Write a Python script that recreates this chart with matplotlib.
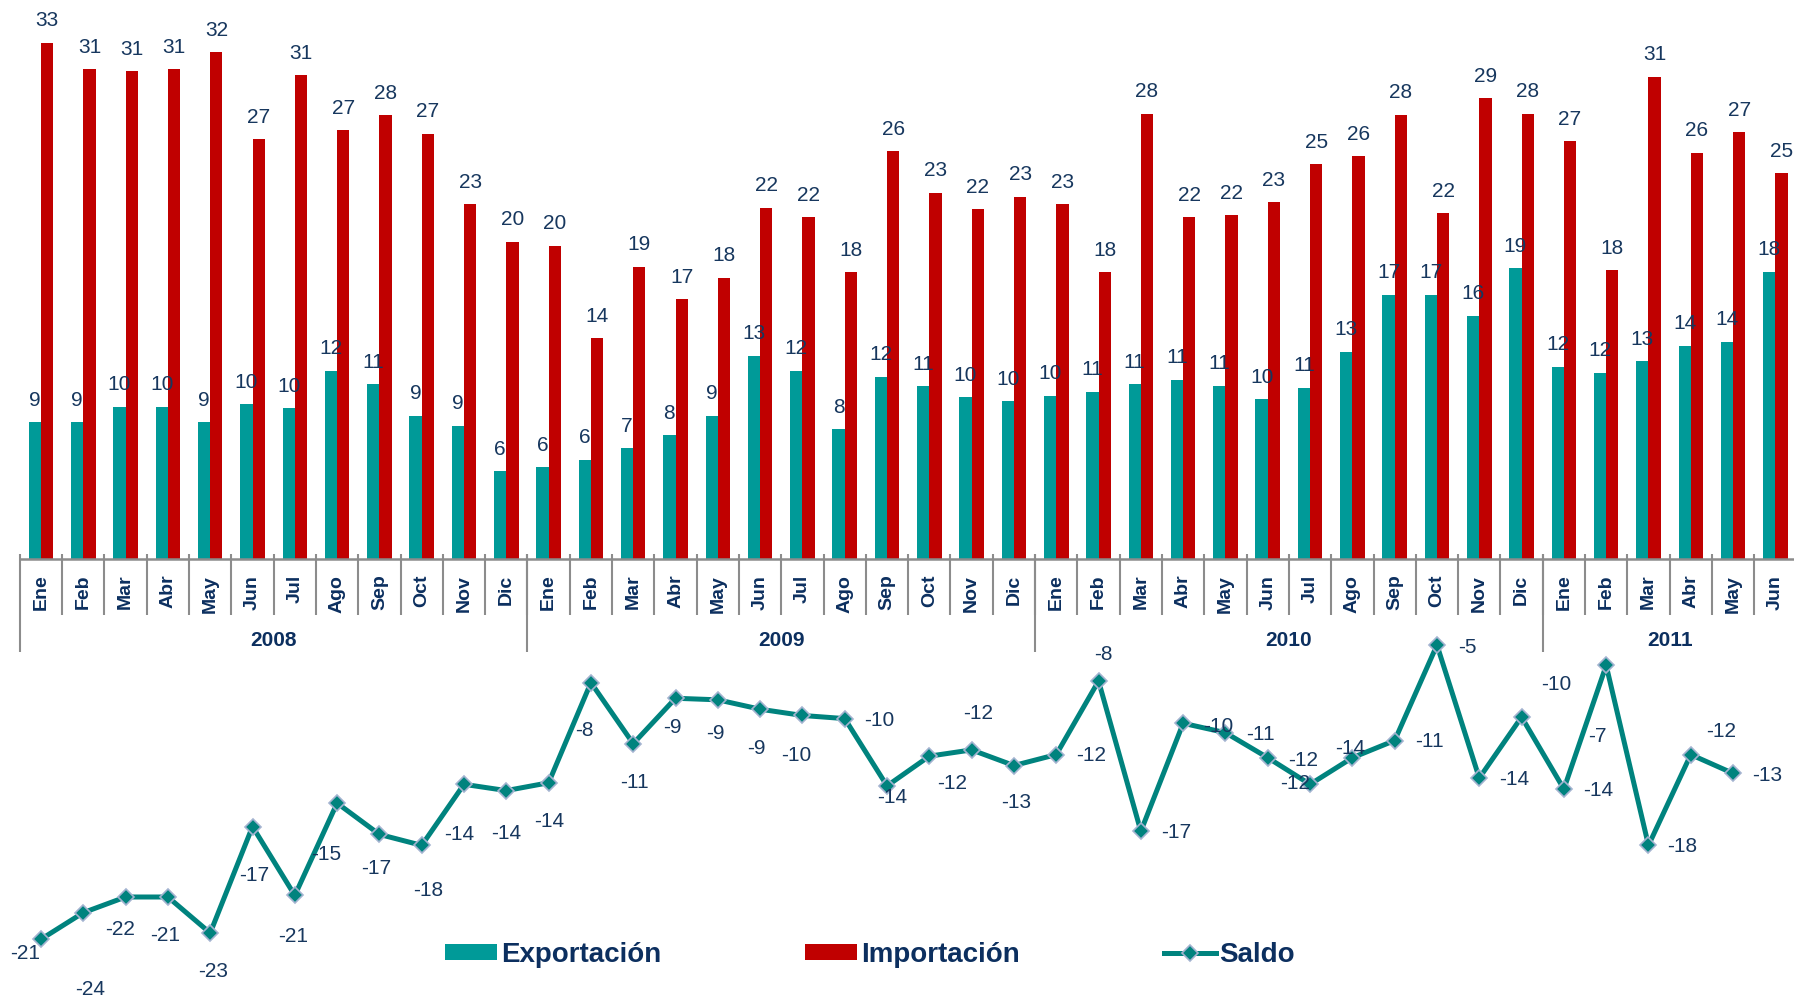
import matplotlib

matplotlib.use("Agg")
import matplotlib.pyplot as plt
import numpy as np
from matplotlib.lines import Line2D
from matplotlib.patches import Patch

plt.rcParams["font.family"] = ["Liberation Sans", "DejaVu Sans"]

TEAL = "#009a98"
RED = "#c00000"
LINE = "#00837e"
NAVY = "#17375e"
DARK = "#0c2f5f"
GREY = "#8c8c8c"

MONTHS = ["Ene", "Feb", "Mar", "Abr", "May", "Jun",
          "Jul", "Ago", "Sep", "Oct", "Nov", "Dic"]
YEARS = ["2008", "2009", "2010", "2011"]
MONTHS_PER_YEAR = [12, 12, 12, 6]

# bar heights (labels show them rounded)
exportacion = [8.75, 8.75, 9.73, 9.73, 8.75, 9.88, 9.63, 12.03, 11.18, 9.14, 8.52, 5.62,
               5.86, 6.35, 7.07, 7.92, 9.14, 13.0, 12.03, 8.29, 11.65, 11.05, 10.33, 10.08,
               10.44, 10.69, 11.18, 11.44, 11.07, 10.22, 10.95, 13.25, 16.87, 16.87, 15.55, 18.57,
               12.27, 11.9, 12.65, 13.61, 13.87, 18.34]
importacion = [32.99, 31.29, 31.18, 31.29, 32.38, 26.82, 30.9, 27.41, 28.35, 27.16, 22.68, 20.28,
               20.02, 14.1, 18.68, 16.6, 17.97, 22.45, 21.83, 18.32, 26.07, 23.41, 22.34, 23.15,
               22.68, 18.32, 28.45, 21.83, 21.96, 22.81, 25.24, 25.73, 28.39, 22.09, 29.45, 28.45,
               26.69, 18.45, 30.8, 25.96, 27.28, 24.64]
# saldo line (Ene 2008 .. May 2011)
saldo = [-24.3, -22.6, -21.6, -21.6, -23.9, -17.1, -21.5, -15.6, -17.6, -18.3, -14.4, -14.8,
         -14.3, -7.9, -11.8, -8.9, -9.0, -9.6, -10.0, -10.2, -14.5, -12.6, -12.2, -13.2,
         -12.5, -7.8, -17.4, -10.5, -11.1, -12.7, -14.4, -12.7, -11.6, -5.5, -14.0, -10.1,
         -14.7, -6.8, -18.3, -12.5, -13.7]
saldo_labels = ["-21", "-24", "-22", "-21", "-23", "-17", "-21", "-15", "-17", "-18", "-14", "-14",
                "-14", "-8", "-11", "-9", "-9", "-9", "-10", "-10", "-14", "-12", "-12", "-13",
                "-12", "-8", "-17", "-10", "-11", "-12", "-12", "-14", "-11", "-5", "-14", "-10",
                "-14", "-7", "-18", "-12", "-13"]

# where each saldo label sits relative to its point (pixels, +y = down)
LABEL_OFFSETS = [(-16, 14), (7, 77), (-6, 33), (-3, 39), (3, 39), (2, 49), (-2, 41), (-11, 51),
                 (-3, 34), (6, 45), (-5, 50), (0, 43), (1, 39), (-7, 48), (1, 39), (-3, 29),
                 (-2, 34), (-4, 39), (-6, 40), (35, 2), (5, 12), (23, 27), (6, -36), (2, 37),
                 (35, 1), (5, -27), (35, 1), (35, 3), (35, 2), (35, 3), (-15, -1), (-2, -9),
                 (35, 1), (30, 2), (35, 1), (35, -33), (34, 1), (-9, 71), (34, 1), (30, -23),
                 (34, 2)]

categories = [m for n in MONTHS_PER_YEAR for m in MONTHS[:n]]
x = np.arange(len(categories))
bw = 0.29

fig = plt.figure(figsize=(17.94, 10.02), dpi=100)
ax = fig.add_axes([0, 0, 1, 1])
ax.set_xlim(-0.969, 41.44)
ax.set_ylim(-28.31, 35.72)
ax.axis("off")

ax.bar(x - bw / 2, exportacion, bw, color=TEAL, zorder=2)
ax.bar(x + bw / 2, importacion, bw, color=RED, zorder=2)

for xi, v in zip(x, exportacion):
    ax.annotate(f"{v:.0f}", (xi - bw / 2, v), xytext=(0, 22), textcoords="offset pixels",
                ha="center", va="center", fontsize=15, color=NAVY)
for xi, v in zip(x, importacion):
    ax.annotate(f"{v:.0f}", (xi + bw / 2, v), xytext=(0, 22), textcoords="offset pixels",
                ha="center", va="center", fontsize=15, color=NAVY)

# category axis
ax.plot([-0.5, x[-1] + 0.5], [0, 0], color=GREY, lw=1.8, zorder=3, solid_capstyle="butt")
bounds = x[:-1] + 0.5
ax.vlines(bounds, -3.58, 0.32, color=GREY, lw=1.5, zorder=3)
year_edges = np.concatenate([[0], np.cumsum(MONTHS_PER_YEAR)]) - 0.5
ax.vlines(year_edges[:-1], -5.94, 0.32, color=GREY, lw=1.5, zorder=3)
for xi, lab in zip(x, categories):
    ax.text(xi, -1.0, lab, rotation=90, ha="center", va="top",
            fontsize=14, fontweight="bold", color=DARK)
for lo, hi, yr in zip(year_edges[:-1], year_edges[1:], YEARS):
    ax.text((lo + hi) / 2, -5.18, yr, ha="center", va="center",
            fontsize=15, fontweight="bold", color=DARK)

# saldo line
xs = x[:len(saldo)]
ax.plot(xs, saldo, color=LINE, lw=3.6, marker="D", ms=8, mfc=LINE,
        mec="#a3b3d0", mew=1.2, zorder=4)
for xi, v, lab, (dx, dy) in zip(xs, saldo, saldo_labels, LABEL_OFFSETS):
    ax.annotate(lab, (xi, v), xytext=(dx, -dy), textcoords="offset pixels",
                ha="center", va="center", fontsize=15, color=NAVY, zorder=5)

handles = [
    Patch(facecolor=TEAL, edgecolor="none", label="Exportación"),
    Patch(facecolor=RED, edgecolor="none", label="Importación"),
    Line2D([], [], color=LINE, lw=3.6, marker="D", ms=8, mfc=LINE,
           mec="#a3b3d0", mew=1.2, label="Saldo"),
]
leg = fig.legend(handles=handles, loc="center", bbox_to_anchor=(0.485, 0.047),
                 ncol=3, frameon=False, fontsize=20, handlelength=1.87,
                 handleheight=0.5, handletextpad=0.12, columnspacing=5.2,
                 borderaxespad=0)
for t in leg.get_texts():
    t.set_color(DARK)
    t.set_fontweight("bold")

fig.savefig("out.png", dpi=100, facecolor="white")
